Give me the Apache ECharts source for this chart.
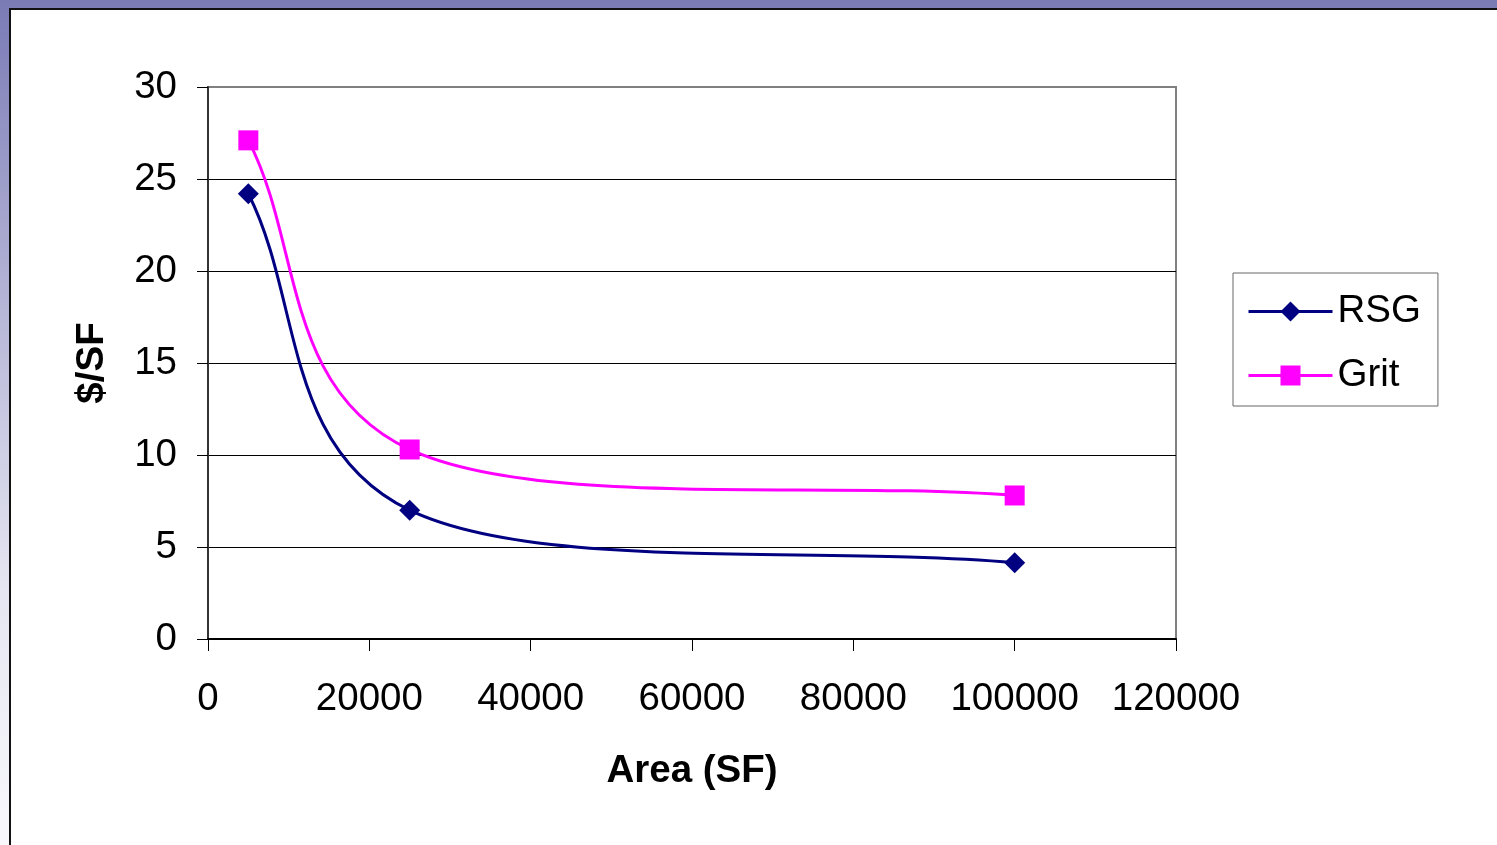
<!DOCTYPE html>
<html>
<head>
<meta charset="utf-8">
<script src="https://cdn.jsdelivr.net/npm/echarts@6/dist/echarts.min.js"></script>
<style>
  html, body { margin: 0; padding: 0; }
  body {
    width: 1497px; height: 845px; overflow: hidden; position: relative;
    background: linear-gradient(to bottom, #7a7ab6 0%, #b4b4d6 35%, #e6e6f2 70%, #f8f8fc 100%);
  }
  #panel {
    position: absolute; left: 9px; top: 8px; right: 0; bottom: 0;
    background: #ffffff; border-left: 2px solid #111; border-top: 2px solid #111;
  }
  #chart { position: absolute; left: 0; top: 0; width: 1497px; height: 845px; }
</style>
</head>
<body>
<div id="panel"></div>
<div id="chart"></div>
<script>
// ---- data ----
const areaSF = [5000, 25000, 100000];
const rsgValues = [24.2, 7.0, 4.15];
const gritValues = [27.1, 10.3, 7.8];
const seriesNames = ['RSG', 'Grit'];
const seriesColors = ['#000080', '#ff00ff'];
const xAxisTitle = 'Area (SF)';
const yAxisTitle = '$/SF';

const FONT = 'Liberation Sans, Arial, sans-serif';
const FS = 38.5;

function pairs(xs, ys) { return xs.map((x, i) => [x, ys[i]]); }

// Spreadsheet-style smoothed curve (cardinal Bezier) through the data points,
// positioned through the chart's own axes via api.coord.
function smoothCurveRenderer(xs, ys, color) {
  return function (params, api) {
    if (params.dataIndex !== 0) return null;
    const p = xs.map((x, i) => api.coord([x, ys[i]]));
    const n = p.length;
    const children = [];
    for (let i = 0; i < n - 1; i++) {
      const a = p[i], b = p[i + 1];
      let c1, c2;
      if (i === 0) {
        c1 = [a[0] + (b[0] - a[0]) / 3, a[1] + (b[1] - a[1]) / 3];
      } else {
        const prev = p[i - 1];
        c1 = [a[0] + (b[0] - prev[0]) / 6, a[1] + (b[1] - prev[1]) / 6];
      }
      if (i === n - 2) {
        c2 = [b[0] - (b[0] - a[0]) / 3, b[1] - (b[1] - a[1]) / 3];
      } else {
        const next = p[i + 2];
        c2 = [b[0] - (next[0] - a[0]) / 6, b[1] - (next[1] - a[1]) / 6];
      }
      children.push({
        type: 'bezierCurve',
        shape: { x1: a[0], y1: a[1], cpx1: c1[0], cpy1: c1[1], cpx2: c2[0], cpy2: c2[1], x2: b[0], y2: b[1] },
        style: { stroke: color, lineWidth: 3, fill: null }
      });
    }
    return { type: 'group', children: children };
  };
}

const chart = echarts.init(document.getElementById('chart'), null, { renderer: 'canvas' });
chart.setOption({
  backgroundColor: 'transparent',
  animation: false,
  grid: {
    left: 208, right: 321, top: 87, bottom: 206,
    show: true, borderColor: '#808080', borderWidth: 2, backgroundColor: 'transparent'
  },
  legend: {
    orient: 'vertical',
    left: 1233, top: 273,
    padding: [19, 17, 11, 14],
    itemGap: 25,
    itemWidth: 84,
    itemHeight: 25,
    itemTextGap: 17,
    borderColor: '#666', borderWidth: 1,
    backgroundColor: '#fff',
    textStyle: { fontFamily: FONT, fontSize: FS, color: '#000' },
    lineStyle: { opacity: 1, width: 3 },
    data: seriesNames
  },
  xAxis: {
    type: 'value', min: 0, max: 120000, interval: 20000,
    name: xAxisTitle, nameLocation: 'middle', nameGap: 113,
    nameTextStyle: { fontFamily: FONT, fontSize: FS, fontWeight: 'bold', color: '#000' },
    axisLine: { show: true, onZero: false, lineStyle: { color: '#000', width: 2 } },
    axisTick: { show: true, length: 12, lineStyle: { color: '#000', width: 1 } },
    axisLabel: { fontFamily: FONT, fontSize: FS, color: '#000', margin: 41, formatter: v => String(v) },
    splitLine: { show: false }
  },
  yAxis: {
    type: 'value', min: 0, max: 30, interval: 5,
    name: yAxisTitle, nameLocation: 'middle', nameGap: 96, nameRotate: 90,
    nameTextStyle: { fontFamily: FONT, fontSize: FS, fontWeight: 'bold', color: '#000' },
    axisLine: { show: true, onZero: false, lineStyle: { color: '#333', width: 2 } },
    axisTick: { show: true, length: 11, lineStyle: { color: '#000', width: 1 } },
    axisLabel: { fontFamily: FONT, fontSize: FS, color: '#000', margin: 31, padding: [6, 0, 0, 0] },
    splitLine: { show: true, showMinLine: false, showMaxLine: false, lineStyle: { color: '#000', width: 1 } }
  },
  series: [
    {
      name: seriesNames[0], type: 'line', data: pairs(areaSF, rsgValues),
      z: 3,
      symbol: 'diamond', symbolSize: 21,
      itemStyle: { color: seriesColors[0] },
      lineStyle: { color: seriesColors[0], width: 3, opacity: 0 }
    },
    {
      name: seriesNames[1], type: 'line', data: pairs(areaSF, gritValues),
      z: 3,
      symbol: 'rect', symbolSize: 20,
      itemStyle: { color: seriesColors[1] },
      lineStyle: { color: seriesColors[1], width: 3, opacity: 0 }
    },
    {
      name: seriesNames[0], type: 'custom', z: 1, silent: true,
      data: pairs(areaSF, rsgValues),
      encode: { x: 0, y: 1 },
      renderItem: smoothCurveRenderer(areaSF, rsgValues, seriesColors[0])
    },
    {
      name: seriesNames[1], type: 'custom', z: 1, silent: true,
      data: pairs(areaSF, gritValues),
      encode: { x: 0, y: 1 },
      renderItem: smoothCurveRenderer(areaSF, gritValues, seriesColors[1])
    }
  ]
});
</script>
</body>
</html>
